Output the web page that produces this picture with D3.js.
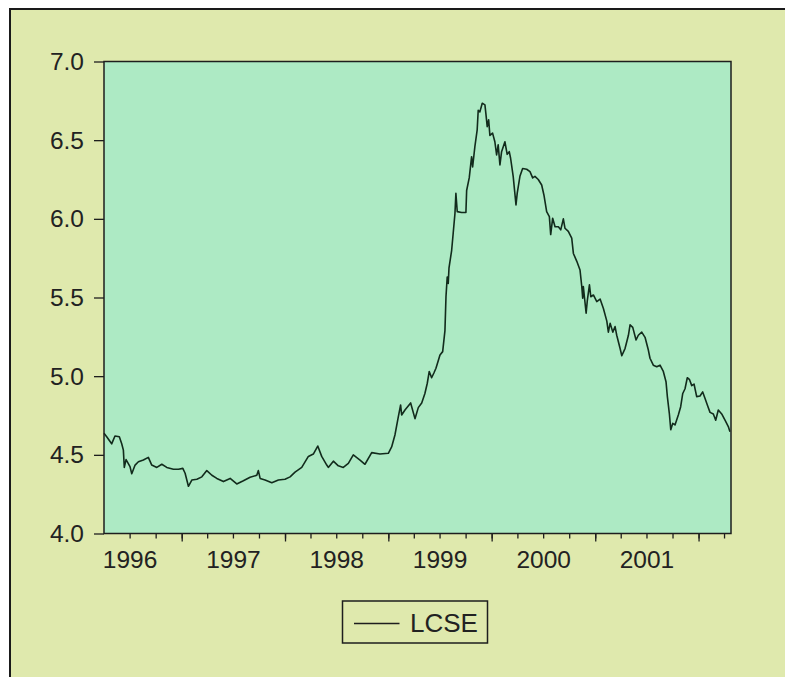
<!DOCTYPE html>
<html>
<head>
<meta charset="utf-8">
<script src="https://d3js.org/d3.v7.min.js"></script>
<style>
    body {
        margin: 0;
        background: #ffffff;
    }
    text {
        font-family: "Liberation Sans", Arial, sans-serif;
        fill: #222222;
    }
    .axis text {
        font-size: 24.5px;
    }
    .axis line {
        stroke: #1e1e1e;
        stroke-width: 1.3px;
    }
    .axis path {
        display: none;
    }
</style>
</head>
<body>
<div id="chart"></div>

<script>

    const obsYears = [
        1996.250, 1996.276, 1996.324, 1996.356, 1996.398, 1996.421, 1996.437, 1996.446, 1996.463, 1996.501,
        1996.518, 1996.550, 1996.582, 1996.630, 1996.678, 1996.711, 1996.760, 1996.808, 1996.856, 1996.920,
        1996.969, 1997.011, 1997.033, 1997.065, 1997.098, 1997.147, 1997.195, 1997.243, 1997.292, 1997.340,
        1997.404, 1997.469, 1997.533, 1997.597, 1997.662, 1997.727, 1997.742, 1997.759, 1997.807, 1997.872,
        1997.936, 1998.000, 1998.049, 1998.097, 1998.162, 1998.226, 1998.274, 1998.317, 1998.355, 1998.404,
        1998.419, 1998.468, 1998.516, 1998.564, 1998.613, 1998.661, 1998.726, 1998.774, 1998.839, 1998.919,
        1999.000, 1999.032, 1999.064, 1999.096, 1999.119, 1999.129, 1999.161, 1999.216, 1999.258, 1999.290,
        1999.323, 1999.354, 1999.377, 1999.396, 1999.419, 1999.441, 1999.461, 1999.500, 1999.526, 1999.548,
        1999.558, 1999.570, 1999.580, 1999.587, 1999.613, 1999.628, 1999.645, 1999.654, 1999.667, 1999.709,
        1999.751, 1999.758, 1999.783, 1999.806, 1999.816, 1999.838, 1999.860, 1999.870, 1999.886, 1999.909,
        1999.935, 1999.944, 1999.957, 1999.971, 1999.983, 2000.009, 2000.031, 2000.048, 2000.063, 2000.080,
        2000.096, 2000.128, 2000.150, 2000.170, 2000.183, 2000.208, 2000.235, 2000.247, 2000.273, 2000.299,
        2000.338, 2000.370, 2000.396, 2000.418, 2000.450, 2000.483, 2000.505, 2000.531, 2000.557, 2000.570,
        2000.589, 2000.612, 2000.644, 2000.667, 2000.692, 2000.708, 2000.740, 2000.773, 2000.789, 2000.822,
        2000.853, 2000.870, 2000.879, 2000.885, 2000.912, 2000.924, 2000.944, 2000.957, 2000.982, 2001.015,
        2001.047, 2001.079, 2001.112, 2001.127, 2001.144, 2001.170, 2001.192, 2001.208, 2001.240, 2001.257,
        2001.289, 2001.321, 2001.337, 2001.363, 2001.395, 2001.417, 2001.450, 2001.482, 2001.514, 2001.530,
        2001.562, 2001.595, 2001.627, 2001.659, 2001.685, 2001.698, 2001.717, 2001.731, 2001.750, 2001.772,
        2001.804, 2001.827, 2001.847, 2001.869, 2001.891, 2001.911, 2001.934, 2001.956, 2001.982, 2002.014,
        2002.040, 2002.062, 2002.085, 2002.111, 2002.143, 2002.166, 2002.191, 2002.224, 2002.256, 2002.288,
        2002.304
    ];

    const lcse = [
        4.637, 4.615, 4.570, 4.620, 4.615, 4.570, 4.530, 4.420, 4.470, 4.425,
        4.380, 4.435, 4.456, 4.467, 4.484, 4.435, 4.420, 4.440, 4.420, 4.408,
        4.408, 4.414, 4.383, 4.300, 4.340, 4.345, 4.360, 4.400, 4.370, 4.350,
        4.330, 4.350, 4.315, 4.335, 4.357, 4.370, 4.400, 4.350, 4.340, 4.323,
        4.340, 4.345, 4.360, 4.390, 4.420, 4.490, 4.505, 4.556, 4.490, 4.435,
        4.420, 4.460, 4.430, 4.420, 4.446, 4.500, 4.467, 4.440, 4.514, 4.505,
        4.510, 4.550, 4.626, 4.740, 4.817, 4.753, 4.785, 4.830, 4.730, 4.800,
        4.830, 4.890, 4.955, 5.030, 4.990, 5.020, 5.050, 5.135, 5.156, 5.290,
        5.505, 5.630, 5.590, 5.686, 5.800, 5.910, 6.035, 6.163, 6.046, 6.040,
        6.040, 6.180, 6.260, 6.395, 6.330, 6.460, 6.565, 6.690, 6.680, 6.735,
        6.724, 6.670, 6.586, 6.630, 6.530, 6.545, 6.490, 6.406, 6.470, 6.343,
        6.427, 6.490, 6.410, 6.427, 6.385, 6.270, 6.088, 6.163, 6.270, 6.320,
        6.315, 6.300, 6.260, 6.270, 6.250, 6.215, 6.150, 6.046, 6.014, 5.900,
        6.004, 5.950, 5.950, 5.930, 6.000, 5.940, 5.920, 5.877, 5.780, 5.730,
        5.675, 5.570, 5.495, 5.570, 5.400, 5.484, 5.580, 5.505, 5.516, 5.474,
        5.490, 5.430, 5.350, 5.280, 5.336, 5.280, 5.315, 5.260, 5.177, 5.130,
        5.177, 5.260, 5.326, 5.310, 5.230, 5.260, 5.280, 5.247, 5.166, 5.114,
        5.070, 5.060, 5.070, 5.030, 4.965, 4.870, 4.764, 4.660, 4.700, 4.690,
        4.753, 4.806, 4.890, 4.920, 4.990, 4.980, 4.940, 4.950, 4.870, 4.874,
        4.900, 4.860, 4.817, 4.770, 4.760, 4.720, 4.785, 4.760, 4.720, 4.680,
        4.647
    ];

    const yTickValues = [4.0, 4.5, 5.0, 5.5, 6.0, 6.5, 7.0];
    const yearLabels = [1996, 1997, 1998, 1999, 2000, 2001];
    const xStart = 1996.25, xEnd = 2002.314;
    const seriesName = "LCSE";

    // decimal year -> Date
    function toDate(t) {
        const yr = Math.floor(t);
        const a = new Date(yr, 0, 1), b = new Date(yr + 1, 0, 1);
        return new Date(a.getTime() + (t - yr) * (b - a));
    }

    const data = obsYears.map((t, i) => ({date: toDate(t), value: lcse[i]}));

    const W = 785, H = 677;
    const margin = {top: 61.5, left: 104},
        width = 627,
        height = 472;

    const root = d3.select("#chart")
        .append("svg")
        .attr("width", W)
        .attr("height", H);

    // outer panel with dark left/top edge
    root.append("rect")
        .attr("x", 10).attr("y", 9)
        .attr("width", W - 10).attr("height", H - 9)
        .attr("fill", "#dfe9ad");
    root.append("path")
        .attr("d", `M10,${H} L10,9 L${W},9`)
        .attr("fill", "none")
        .attr("stroke", "#1a1a1a")
        .attr("stroke-width", 2);

    const svg = root.append("g")
        .attr("transform", `translate(${margin.left}, ${margin.top})`);

    svg.append("rect")
        .attr("width", width)
        .attr("height", height)
        .attr("fill", "#adeac4");

    const x = d3.scaleTime()
        .domain([toDate(xStart), toDate(xEnd)])
        .range([0, width]);

    const y = d3.scaleLinear()
        .domain([4, 7])
        .range([height, 0]);

    // Y axis
    svg.append("g")
        .attr("class", "axis")
        .call(d3.axisLeft(y)
            .tickValues(yTickValues)
            .tickSize(10)
            .tickPadding(10)
            .tickFormat(d3.format(".1f")));

    // quarterly ticks
    svg.append("g")
        .attr("class", "axis")
        .attr("transform", `translate(0, ${height})`)
        .call(d3.axisBottom(x)
            .ticks(d3.timeMonth.every(3))
            .tickSize(5)
            .tickFormat(""));

    // year boundary ticks (a bit longer)
    const yearStarts = d3.timeYear.range(toDate(xStart), toDate(xEnd));
    svg.append("g")
        .attr("class", "axis")
        .attr("transform", `translate(0, ${height})`)
        .call(d3.axisBottom(x)
            .tickValues(yearStarts)
            .tickSize(8)
            .tickFormat(""));

    // year labels in the middle of each year
    svg.append("g")
        .attr("class", "axis")
        .attr("transform", `translate(0, ${height})`)
        .call(d3.axisBottom(x)
            .tickValues(yearLabels.map(yr => new Date(yr, 6, 1)))
            .tickSize(0)
            .tickPadding(17)
            .tickFormat(d3.timeFormat("%Y")));

    // the series
    svg.append("path")
        .datum(data)
        .attr("fill", "none")
        .attr("stroke", "#122b1c")
        .attr("stroke-width", 1.6)
        .attr("stroke-linejoin", "round")
        .attr("d", d3.line()
            .x(d => x(d.date))
            .y(d => y(d.value)));

    // frame
    svg.append("rect")
        .attr("width", width)
        .attr("height", height)
        .attr("fill", "none")
        .attr("stroke", "#1e1e1e")
        .attr("stroke-width", 1.5);

    // legend
    const legend = root.append("g")
        .attr("transform", "translate(342.5, 601)");
    legend.append("rect")
        .attr("width", 145)
        .attr("height", 42)
        .attr("fill", "none")
        .attr("stroke", "#1e1e1e")
        .attr("stroke-width", 1.5);
    legend.append("line")
        .attr("x1", 11.5).attr("x2", 57)
        .attr("y1", 22.5).attr("y2", 22.5)
        .attr("stroke", "#1e1e1e")
        .attr("stroke-width", 1.3);
    legend.append("text")
        .attr("x", 67.5)
        .attr("y", 31)
        .style("font-size", "26px")
        .text(seriesName);

</script>
</body>
</html>
